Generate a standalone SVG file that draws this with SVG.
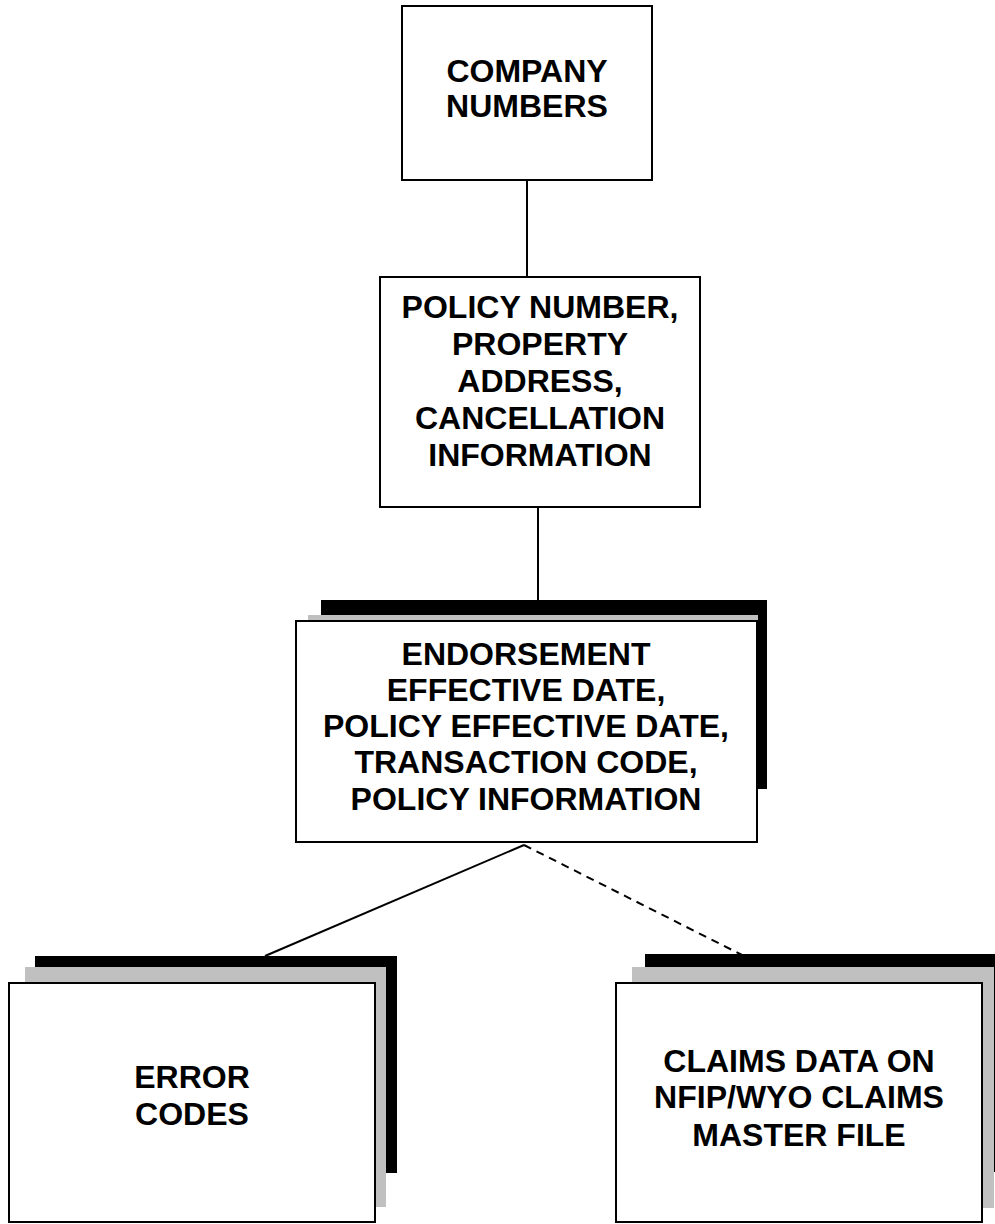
<svg xmlns="http://www.w3.org/2000/svg" width="995" height="1224" viewBox="0 0 995 1224">
<style>
.box{fill:#fff;stroke:#000;stroke-width:2}
.blk{fill:#000}
.gry{fill:#c0c0c0}
.lbl{font-family:"Liberation Sans",Arial,sans-serif;font-weight:bold;font-size:32px;text-anchor:middle;fill:#000}
.con{stroke:#000;stroke-width:2;fill:none}
.dash{stroke-dasharray:8,6}
</style>
<rect width="995" height="1224" fill="#fff"/>
<g id="connectors">
<line class="con" x1="527" y1="180" x2="527" y2="277"/>
<line class="con" x1="538" y1="507" x2="538" y2="600"/>
<line class="con" x1="524" y1="845" x2="265" y2="956"/>
<line class="con dash" x1="524" y1="845" x2="742" y2="955"/>
</g>
<g id="company-numbers">
<rect class="box" x="402" y="6" width="250" height="174"/>
<text class="lbl" x="527" y="82">COMPANY</text>
<text class="lbl" x="527" y="117">NUMBERS</text>
</g>
<g id="policy-number">
<rect class="box" x="380" y="277" width="320" height="230"/>
<text class="lbl" x="540" y="318">POLICY NUMBER,</text>
<text class="lbl" x="540" y="355">PROPERTY</text>
<text class="lbl" x="540" y="392">ADDRESS,</text>
<text class="lbl" x="540" y="429">CANCELLATION</text>
<text class="lbl" x="540" y="466">INFORMATION</text>
</g>
<g id="endorsement">
<rect class="blk" x="321" y="600" width="446" height="189"/>
<rect class="gry" x="308" y="615" width="450" height="185"/>
<rect class="box" x="296" y="621" width="461" height="221"/>
<text class="lbl" x="526" y="665">ENDORSEMENT</text>
<text class="lbl" x="526" y="701">EFFECTIVE DATE,</text>
<text class="lbl" x="526" y="737">POLICY EFFECTIVE DATE,</text>
<text class="lbl" x="526" y="773">TRANSACTION CODE,</text>
<text class="lbl" x="526" y="810">POLICY INFORMATION</text>
</g>
<g id="error-codes">
<rect class="blk" x="35" y="956" width="362" height="217"/>
<rect class="gry" x="25" y="967" width="361" height="240"/>
<rect class="box" x="9" y="983" width="366" height="239"/>
<text class="lbl" x="192" y="1088">ERROR</text>
<text class="lbl" x="192" y="1125">CODES</text>
</g>
<g id="claims-data">
<rect class="blk" x="645" y="954" width="350" height="218"/>
<rect class="gry" x="632" y="967" width="362" height="241"/>
<rect class="box" x="616" y="983" width="366" height="239"/>
<text class="lbl" x="799" y="1072">CLAIMS DATA ON</text>
<text class="lbl" x="799" y="1108">NFIP/WYO CLAIMS</text>
<text class="lbl" x="799" y="1146">MASTER FILE</text>
</g>
</svg>
